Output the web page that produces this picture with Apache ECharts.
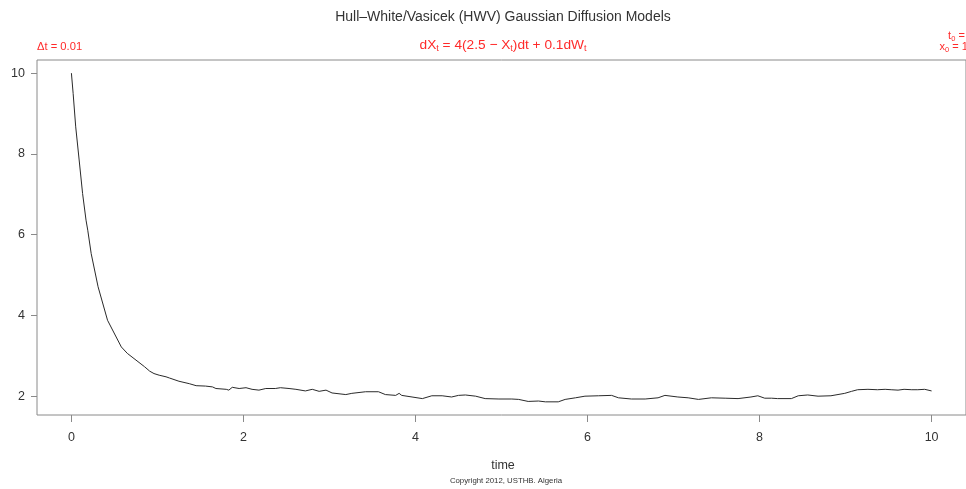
<!DOCTYPE html>
<html>
<head>
<meta charset="utf-8">
<title>Hull–White/Vasicek (HWV) Gaussian Diffusion Models</title>
<script src="https://cdn.jsdelivr.net/npm/echarts@6/dist/echarts.min.js"></script>
<style>
  html, body { margin: 0; padding: 0; background: #fff; }
  #chart { width: 966px; height: 489px; }
</style>
</head>
<body>
<div id="chart"></div>
<script>
// Simulated HWV path: time (step 0.01) and process value X_t
const times = [
  0.00, 0.02, 0.05, 0.09, 0.13, 0.17, 0.19, 0.23, 0.31, 0.42,
  0.58, 0.65, 0.85, 0.91, 0.96, 1.02, 1.10, 1.14, 1.25, 1.37,
  1.45, 1.56, 1.64, 1.68, 1.80, 1.83, 1.87, 1.95, 2.03, 2.10,
  2.18, 2.26, 2.37, 2.43, 2.53, 2.61, 2.72, 2.80, 2.88, 2.96,
  3.03, 3.19, 3.26, 3.42, 3.57, 3.65, 3.77, 3.81, 3.84, 3.96,
  4.08, 4.19, 4.31, 4.42, 4.50, 4.58, 4.70, 4.81, 4.97, 5.12,
  5.20, 5.31, 5.43, 5.51, 5.66, 5.74, 5.86, 5.97, 6.13, 6.28,
  6.36, 6.51, 6.67, 6.82, 6.90, 7.05, 7.17, 7.29, 7.44, 7.60,
  7.75, 7.90, 7.98, 8.06, 8.14, 8.21, 8.37, 8.45, 8.56, 8.68,
  8.83, 8.99, 9.07, 9.14, 9.26, 9.37, 9.46, 9.53, 9.61, 9.68,
  9.77, 9.84, 9.92, 10.00
];
const values = [
  10.00, 9.50, 8.67, 7.85, 7.02, 6.36, 6.11, 5.53, 4.71, 3.88,
  3.22, 3.06, 2.73, 2.62, 2.56, 2.52, 2.48, 2.45, 2.37, 2.31,
  2.26, 2.25, 2.23, 2.19, 2.17, 2.15, 2.22, 2.19, 2.21, 2.17,
  2.15, 2.19, 2.19, 2.21, 2.19, 2.17, 2.13, 2.17, 2.12, 2.15,
  2.08, 2.04, 2.07, 2.11, 2.11, 2.04, 2.02, 2.07, 2.02, 1.98,
  1.94, 2.01, 2.01, 1.98, 2.02, 2.03, 2.00, 1.94, 1.93, 1.93,
  1.92, 1.87, 1.88, 1.86, 1.86, 1.92, 1.96, 2.00, 2.01, 2.02,
  1.96, 1.93, 1.93, 1.96, 2.02, 1.98, 1.96, 1.92, 1.96, 1.95,
  1.94, 1.98, 2.01, 1.95, 1.95, 1.94, 1.94, 2.01, 2.03, 2.00,
  2.01, 2.07, 2.12, 2.16, 2.17, 2.16, 2.17, 2.16, 2.15, 2.17,
  2.16, 2.16, 2.17, 2.13
];
const xTicks = [0, 2, 4, 6, 8, 10];
const yTicks = [2, 4, 6, 8, 10];

const FONT = 'Liberation Sans, Arial, Helvetica, sans-serif';
const RED = '#ff2a2a';
const AXIS = '#8a8a8a';
const INK = '#333';

const chart = echarts.init(document.getElementById('chart'), null, { renderer: 'canvas' });

// subscript-capable rich styles for the red annotations
function richPair(size, subSize, lh) {
  return {
    m: { fontFamily: FONT, fontSize: size, fill: RED, color: RED, lineHeight: lh },
    s: { fontFamily: FONT, fontSize: subSize, fill: RED, color: RED, lineHeight: subSize + 1, verticalAlign: 'bottom' }
  };
}

chart.setOption({
  animation: false,
  backgroundColor: '#fff',
  grid: {
    left: 37, top: 60, width: 931.5, height: 355,
    show: true, borderColor: AXIS, borderWidth: 1, backgroundColor: 'transparent'
  },
  xAxis: {
    type: 'value', min: -0.4, max: 10.4,
    axisLine: { show: false, onZero: false },
    splitLine: { show: false },
    axisTick: { show: true, customValues: xTicks, length: 7, inside: false, lineStyle: { color: AXIS } },
    axisLabel: { customValues: xTicks, margin: 16, color: INK, fontFamily: FONT, fontSize: 12.5 }
  },
  yAxis: {
    type: 'value', min: 1.534, max: 10.326,
    axisLine: { show: false, onZero: false },
    splitLine: { show: false },
    axisTick: { show: true, customValues: yTicks, length: 6, inside: false, lineStyle: { color: AXIS } },
    axisLabel: { customValues: yTicks, margin: 12, color: INK, fontFamily: FONT, fontSize: 12.5 }
  },
  series: [{
    type: 'line',
    data: times.map((t, i) => [t, values[i]]),
    showSymbol: false,
    smooth: false,
    lineStyle: { color: '#2a2a2a', width: 1 },
    clip: false
  }],
  graphic: [
    {
      type: 'text', x: 503, y: 17,
      style: {
        text: 'Hull–White/Vasicek (HWV) Gaussian Diffusion Models',
        font: '14px ' + FONT, fill: INK, align: 'center', verticalAlign: 'middle'
      }
    },
    {
      type: 'text', x: 503, y: 45,
      style: {
        text: '{m|dX}{s|t}{m| = 4(2.5 − X}{s|t}{m|)dt + 0.1dW}{s|t}',
        align: 'center', verticalAlign: 'middle',
        rich: richPair(13.7, 9, 17)
      }
    },
    {
      type: 'text', x: 37, y: 47,
      style: {
        text: 'Δt = 0.01',
        font: '11.2px ' + FONT, fill: RED, align: 'left', verticalAlign: 'middle'
      }
    },
    {
      type: 'text', x: 974, y: 36,
      style: {
        text: '{m|t}{s|0}{m| = 0}',
        align: 'right', verticalAlign: 'middle',
        rich: richPair(11, 7.5, 13)
      }
    },
    {
      type: 'text', x: 974, y: 47,
      style: {
        text: '{m|x}{s|0}{m| = 10}',
        align: 'right', verticalAlign: 'middle',
        rich: richPair(11, 7.5, 13)
      }
    },
    {
      type: 'text', x: 503, y: 466,
      style: {
        text: 'time', font: '12.5px ' + FONT, fill: INK, align: 'center', verticalAlign: 'middle'
      }
    },
    {
      type: 'text', x: 506, y: 481,
      style: {
        text: 'Copyright 2012, USTHB. Algeria', font: '7.8px ' + FONT, fill: INK,
        align: 'center', verticalAlign: 'middle'
      }
    }
  ]
});
</script>
</body>
</html>
